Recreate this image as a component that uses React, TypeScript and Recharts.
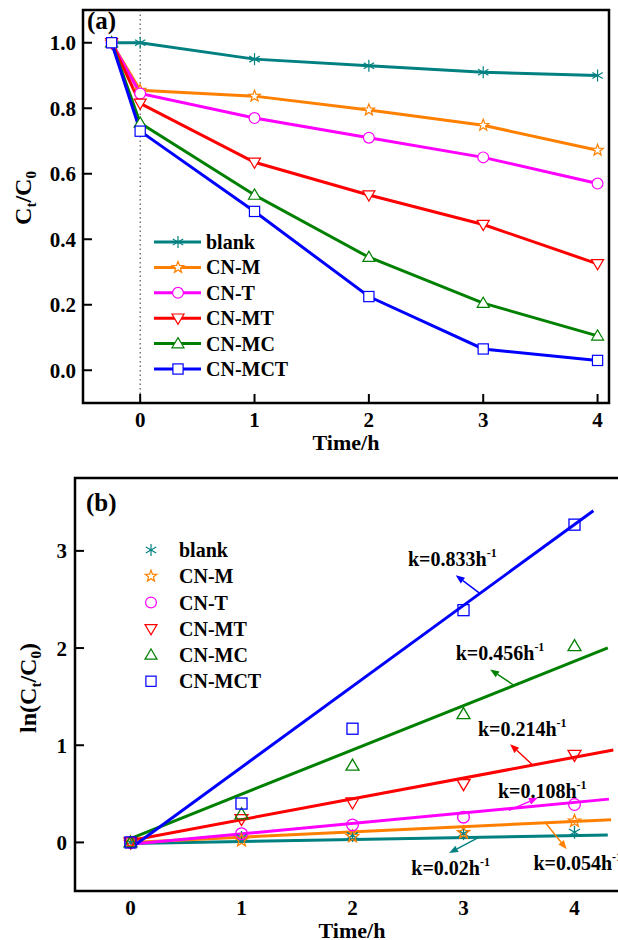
import React from 'react'
import {
  ComposedChart,
  Line,
  Scatter,
  XAxis,
  YAxis,
  ReferenceArea,
  ReferenceLine,
  ReferenceDot,
} from 'recharts'

const FONT = '"Liberation Serif", "Times New Roman", serif'

const samples = ['blank', 'CN-M', 'CN-T', 'CN-MT', 'CN-MC', 'CN-MCT']
const colors = ['#008080', '#ff8000', '#ff00ff', '#ff0000', '#008000', '#0000ff']
const markers = ['asterisk', 'star', 'circle', 'down', 'up', 'square']

// (a) Ct/C0 vs time, first point is the dark adsorption step at -0.25 h
const times = [-0.25, 0, 1, 2, 3, 4]
const blank = [1.0, 1.0, 0.95, 0.93, 0.91, 0.9]
const cnM = [1.0, 0.855, 0.837, 0.795, 0.748, 0.672]
const cnT = [1.0, 0.845, 0.77, 0.71, 0.65, 0.57]
const cnMT = [1.0, 0.815, 0.635, 0.535, 0.445, 0.325]
const cnMC = [1.0, 0.755, 0.535, 0.345, 0.205, 0.105]
const cnMCT = [1.0, 0.73, 0.485, 0.225, 0.065, 0.03]
const curvesA = [blank, cnM, cnT, cnMT, cnMC, cnMCT]

// (b) ln(C0/Ct) vs time with linear fits
const kTimes = [0, 1, 2, 3, 4]
const lnBlank = [0, 0.05, 0.07, 0.09, 0.105]
const lnCnM = [0, 0.02, 0.06, 0.1, 0.22]
const lnCnT = [0, 0.09, 0.18, 0.26, 0.39]
const lnCnMT = [0, 0.24, 0.41, 0.6, 0.9]
const lnCnMC = [0, 0.29, 0.79, 1.32, 2.02]
const lnCnMCT = [0, 0.4, 1.17, 2.39, 3.27]
const curvesB = [lnBlank, lnCnM, lnCnT, lnCnMT, lnCnMC, lnCnMCT]

const kValues = [0.02, 0.054, 0.108, 0.214, 0.456, 0.833]
const intercepts = [-0.01, 0, -0.02, 0.02, 0.04, -0.06]
const fitEnds = [4.3, 4.33, 4.31, 4.35, 4.3, 4.17]

// where the k labels and their pointers sit, in data units of panel (b)
const labelSpots = [
  { t: 2.53, v: -0.26 },
  { t: 3.63, v: -0.21 },
  { t: 3.31, v: 0.53 },
  { t: 3.13, v: 1.17 },
  { t: 2.93, v: 1.95 },
  { t: 2.5, v: 2.92 },
]
const pointers = [
  [3.15, 0.06, 2.87, -0.11],
  [3.74, 0.2, 3.93, -0.07],
  [3.41, 0.33, 3.67, 0.46],
  [3.62, 0.8, 3.42, 1.01],
  [3.45, 1.62, 3.24, 1.78],
  [3.15, 2.56, 2.93, 2.75],
]

const tickFont = { fontSize: 21, fontWeight: 700, fontFamily: FONT, fill: '#000' }

function Marker({
  kind,
  cx,
  cy,
  size,
  color,
  fill = 'none',
  sw = 1.2,
}: {
  kind: string
  cx: number
  cy: number
  size: number
  color: string
  fill?: string
  sw?: number
}) {
  const r = size / 2
  if (kind === 'asterisk') {
    return (
      <g stroke={color} strokeWidth={sw}>
        {[90, 30, -30].map((a) => {
          const dx = r * Math.cos((a * Math.PI) / 180)
          const dy = r * Math.sin((a * Math.PI) / 180)
          return <line key={a} x1={cx - dx} y1={cy - dy} x2={cx + dx} y2={cy + dy} />
        })}
      </g>
    )
  }
  if (kind === 'star') {
    const pts: string[] = []
    for (let i = 0; i < 10; i++) {
      const rr = i % 2 === 0 ? r : r * 0.42
      const a = -Math.PI / 2 + (i * Math.PI) / 5
      pts.push(`${cx + rr * Math.cos(a)},${cy + rr * Math.sin(a)}`)
    }
    return <polygon points={pts.join(' ')} fill={fill} stroke={color} strokeWidth={sw} />
  }
  if (kind === 'circle') {
    return <circle cx={cx} cy={cy} r={r * 0.9} fill={fill} stroke={color} strokeWidth={sw} />
  }
  if (kind === 'down') {
    const pts = `${cx - r},${cy - r * 0.7} ${cx + r},${cy - r * 0.7} ${cx},${cy + r}`
    return <polygon points={pts} fill={fill} stroke={color} strokeWidth={sw} />
  }
  if (kind === 'up') {
    const pts = `${cx - r},${cy + r * 0.7} ${cx + r},${cy + r * 0.7} ${cx},${cy - r}`
    return <polygon points={pts} fill={fill} stroke={color} strokeWidth={sw} />
  }
  const s = r * 0.85
  return (
    <rect x={cx - s} y={cy - s} width={2 * s} height={2 * s} fill={fill} stroke={color} strokeWidth={sw} />
  )
}

function Arrow({ x1, y1, x2, y2, color }: any) {
  const ang = Math.atan2(y2 - y1, x2 - x1)
  const len = 9
  const hw = 3.5
  const bx = x2 - len * Math.cos(ang)
  const by = y2 - len * Math.sin(ang)
  const px = -Math.sin(ang) * hw
  const py = Math.cos(ang) * hw
  return (
    <g>
      <line x1={x1} y1={y1} x2={bx} y2={by} stroke={color} strokeWidth={1.4} />
      <polygon points={`${x2},${y2} ${bx + px},${by + py} ${bx - px},${by - py}`} fill={color} />
    </g>
  )
}

const rowsA = times.map((t, i) => {
  const row: Record<string, number> = { t }
  samples.forEach((s, j) => {
    row[s] = curvesA[j][i]
  })
  return row
})

function PanelA() {
  return (
    <ComposedChart width={618} height={460} data={rowsA} margin={{ top: 10, right: 9, bottom: 0, left: 0 }}>
      <XAxis
        type="number"
        dataKey="t"
        domain={[-0.5, 4.1]}
        ticks={[0, 1, 2, 3, 4]}
        allowDataOverflow
        height={57}
        axisLine={false}
        tickSize={-9}
        tickMargin={18}
        tickLine={{ stroke: '#000', strokeWidth: 2 }}
        tick={tickFont}
      />
      <YAxis
        type="number"
        domain={[-0.1, 1.1]}
        ticks={[0, 0.2, 0.4, 0.6, 0.8, 1.0]}
        tickFormatter={(v: number) => v.toFixed(1)}
        allowDataOverflow
        width={83}
        axisLine={false}
        tickSize={-9}
        tickMargin={16}
        tickLine={{ stroke: '#000', strokeWidth: 2 }}
        tick={tickFont}
      />
      <ReferenceArea x1={-0.5} x2={4.1} y1={-0.1} y2={1.1} fill="none" stroke="#000" strokeWidth={2.5} />
      <ReferenceLine x={0} stroke="#333" strokeWidth={1} strokeDasharray="1.5 3" />
      {samples.map((s, j) => (
        <Line
          key={s}
          dataKey={s}
          stroke={colors[j]}
          strokeWidth={3}
          isAnimationActive={false}
          activeDot={false}
          dot={(p: any) => (
            <Marker
              key={`${s}-${p.index}`}
              kind={markers[j]}
              cx={p.cx}
              cy={p.cy}
              size={12}
              color={colors[j]}
              fill="#fff"
            />
          )}
        />
      ))}
    </ComposedChart>
  )
}

function PanelB() {
  return (
    <ComposedChart width={640} height={470} margin={{ top: 8, right: 10, bottom: 0, left: 0 }}>
      <XAxis
        type="number"
        dataKey="t"
        domain={[-0.5, 4.5]}
        ticks={[0, 1, 2, 3, 4]}
        allowDataOverflow
        height={49}
        axisLine={false}
        tickLine={false}
        tickSize={0}
        tickMargin={9}
        tick={tickFont}
      />
      <YAxis
        type="number"
        dataKey="v"
        domain={[-0.5, 3.75]}
        ticks={[0, 1, 2, 3]}
        allowDataOverflow
        width={75}
        axisLine={false}
        tickSize={-9}
        tickMargin={17}
        tickLine={{ stroke: '#000', strokeWidth: 2 }}
        tick={tickFont}
      />
      <ReferenceArea x1={-0.5} x2={4.5} y1={-0.5} y2={3.75} fill="none" stroke="#000" strokeWidth={2.5} />
      {samples.map((s, j) => (
        <Scatter
          key={`pts-${s}`}
          data={kTimes.map((t, i) => ({ t, v: curvesB[j][i] }))}
          dataKey="v"
          isAnimationActive={false}
          shape={(p: any) => (
            <Marker kind={markers[j]} cx={p.cx} cy={p.cy} size={13} color={colors[j]} sw={1.3} />
          )}
        />
      ))}
      {samples.map((s, j) => (
        <Line
          key={`fit-${s}`}
          data={[
            { t: 0, v: intercepts[j] },
            { t: fitEnds[j], v: intercepts[j] + kValues[j] * fitEnds[j] },
          ]}
          dataKey="v"
          stroke={colors[j]}
          strokeWidth={3}
          dot={false}
          activeDot={false}
          isAnimationActive={false}
        />
      ))}
      {samples.map((s, j) => (
        <ReferenceLine
          key={`ptr-${s}`}
          segment={[
            { x: pointers[j][0], y: pointers[j][1] },
            { x: pointers[j][2], y: pointers[j][3] },
          ]}
          ifOverflow="visible"
          shape={(p: any) => <Arrow x1={p.x1} y1={p.y1} x2={p.x2} y2={p.y2} color={colors[j]} />}
        />
      ))}
      {samples.map((s, j) => (
        <ReferenceDot
          key={`k-${s}`}
          x={labelSpots[j].t}
          y={labelSpots[j].v}
          r={0}
          ifOverflow="visible"
          shape={(p: any) => (
            <text x={p.cx} y={p.cy + 7} fontFamily={FONT} fontWeight={700} fontSize={20} fill="#000">
              {`k=${kValues[j]}h`}
              <tspan dy={-9} fontSize={12}>
                -1
              </tspan>
            </text>
          )}
        />
      ))}
    </ComposedChart>
  )
}

function Overlay() {
  const txt = { fontFamily: FONT, fontWeight: 700, fill: '#000' }
  return (
    <svg
      width={618}
      height={940}
      style={{ position: 'absolute', left: 0, top: 0, pointerEvents: 'none' }}
    >
      <text x={87} y={29} fontSize={25} {...txt}>
        (a)
      </text>
      <text x={86} y={511} fontSize={25} {...txt}>
        (b)
      </text>
      <text transform="translate(31,198) rotate(-90)" textAnchor="middle" fontSize={24} {...txt}>
        C<tspan dy={5} fontSize={15}>t</tspan>
        <tspan dy={-5}>/C</tspan>
        <tspan dy={5} fontSize={15}>0</tspan>
      </text>
      <text transform="translate(36,688) rotate(-90)" textAnchor="middle" fontSize={24} {...txt}>
        ln(C<tspan dy={5} fontSize={15}>t</tspan>
        <tspan dy={-5}>/C</tspan>
        <tspan dy={5} fontSize={15}>0</tspan>
        <tspan dy={-5}>)</tspan>
      </text>
      <text x={346} y={450} textAnchor="middle" fontSize={22} {...txt}>
        Time/h
      </text>
      <text x={352} y={938} textAnchor="middle" fontSize={22} {...txt}>
        Time/h
      </text>
      {samples.map((s, j) => {
        const y = 242 + 25.4 * j
        return (
          <g key={`la-${s}`}>
            <line x1={154} x2={201} y1={y} y2={y} stroke={colors[j]} strokeWidth={3} />
            <Marker kind={markers[j]} cx={178} cy={y} size={12} color={colors[j]} fill="#fff" />
            <text x={206} y={y + 7} fontSize={20} {...txt}>
              {s}
            </text>
          </g>
        )
      })}
      {samples.map((s, j) => {
        const y = 550 + 26.25 * j
        return (
          <g key={`lb-${s}`}>
            <Marker kind={markers[j]} cx={151} cy={y} size={12} color={colors[j]} sw={1.2} />
            <text x={179} y={y + 7} fontSize={20} {...txt}>
              {s}
            </text>
          </g>
        )
      })}
    </svg>
  )
}

export default function App() {
  return (
    <div
      style={{
        position: 'absolute',
        left: 0,
        top: 0,
        width: 618,
        height: 940,
        overflow: 'hidden',
        background: '#fff',
      }}
    >
      <div style={{ position: 'absolute', left: 0, top: 0 }}>
        <PanelA />
      </div>
      <div style={{ position: 'absolute', left: 0, top: 470 }}>
        <PanelB />
      </div>
      <Overlay />
    </div>
  )
}
